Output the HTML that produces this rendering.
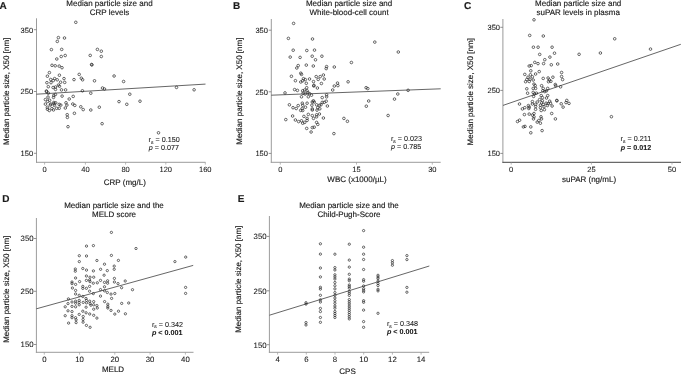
<!DOCTYPE html>
<html><head><meta charset="utf-8"><style>
html,body{margin:0;padding:0;background:#fff;}
svg{display:block;will-change:transform;}
text{text-rendering:geometricPrecision;font-family:"Liberation Sans", sans-serif;fill:#1a1a1a;stroke:#1a1a1a;stroke-width:0.15px;}
text.st{stroke-width:0.08px;}
text.tk{stroke-width:0.08px;}
circle{fill:none;stroke:#2a2a2a;stroke-width:0.7;}
</style></head><body>
<svg width="685" height="374" viewBox="0 0 685 374">
<text x="-0.6" y="8.8" font-size="10" text-anchor="start" font-weight="bold" font-style="normal" fill="#000">A</text>
<text x="109.5" y="5.9" font-size="8" text-anchor="middle" font-weight="normal" font-style="normal" >Median particle size and</text>
<text x="109.5" y="15.4" font-size="8" text-anchor="middle" font-weight="normal" font-style="normal" >CRP levels</text>
<line x1="36.5" y1="18.3" x2="36.5" y2="162.8" stroke="#9c9c9c" stroke-width="1.0"/>
<line x1="36.0" y1="162.3" x2="205.5" y2="162.3" stroke="#9c9c9c" stroke-width="1.0"/>
<line x1="33.9" y1="153.3" x2="36.5" y2="153.3" stroke="#777" stroke-width="0.8"/>
<text x="33.1" y="156.10000000000002" font-size="7.5" text-anchor="end" font-weight="normal" font-style="normal" class="tk">150</text>
<line x1="33.9" y1="91.5" x2="36.5" y2="91.5" stroke="#777" stroke-width="0.8"/>
<text x="33.1" y="94.3" font-size="7.5" text-anchor="end" font-weight="normal" font-style="normal" class="tk">250</text>
<line x1="33.9" y1="29.7" x2="36.5" y2="29.7" stroke="#777" stroke-width="0.8"/>
<text x="33.1" y="32.5" font-size="7.5" text-anchor="end" font-weight="normal" font-style="normal" class="tk">350</text>
<line x1="44.6" y1="162.3" x2="44.6" y2="164.60000000000002" stroke="#999" stroke-width="0.7"/>
<text x="44.6" y="172.3" font-size="7.5" text-anchor="middle" font-weight="normal" font-style="normal" class="tk">0</text>
<line x1="85.4" y1="162.3" x2="85.4" y2="164.60000000000002" stroke="#999" stroke-width="0.7"/>
<text x="85.4" y="172.3" font-size="7.5" text-anchor="middle" font-weight="normal" font-style="normal" class="tk">40</text>
<line x1="125.6" y1="162.3" x2="125.6" y2="164.60000000000002" stroke="#999" stroke-width="0.7"/>
<text x="125.6" y="172.3" font-size="7.5" text-anchor="middle" font-weight="normal" font-style="normal" class="tk">80</text>
<line x1="165.8" y1="162.3" x2="165.8" y2="164.60000000000002" stroke="#999" stroke-width="0.7"/>
<text x="165.8" y="172.3" font-size="7.5" text-anchor="middle" font-weight="normal" font-style="normal" class="tk">120</text>
<line x1="205.3" y1="162.3" x2="205.3" y2="164.60000000000002" stroke="#999" stroke-width="0.7"/>
<text x="205.3" y="172.3" font-size="7.5" text-anchor="middle" font-weight="normal" font-style="normal" class="tk">160</text>
<text x="124.8" y="184.5" font-size="8" text-anchor="middle" font-weight="normal" font-style="normal" >CRP (mg/L)</text>
<text transform="translate(9.0,91.3) rotate(-90)" font-size="8" text-anchor="middle">Median particle size, X50 [nm]</text>
<line x1="36.5" y1="94.2" x2="205.5" y2="84.1" stroke="#333" stroke-width="0.75"/>
<text x="148.6" y="141.9" font-size="7.2" text-anchor="start" font-weight="normal" font-style="normal" class="st">r</text>
<text x="151.0" y="143.8" font-size="5.0" text-anchor="start" font-weight="normal" font-style="normal" class="st">s</text>
<text x="155.5" y="141.9" font-size="7.2" text-anchor="start" font-weight="normal" font-style="normal" class="st">= 0.150</text>
<text x="148.8" y="149.8" font-size="7.2" text-anchor="start" font-weight="normal" font-style="italic" class="st">p</text>
<text x="154.8" y="149.8" font-size="7.2" text-anchor="start" font-weight="normal" font-style="normal" class="st">= 0.077</text>
<text x="233.0" y="8.8" font-size="10" text-anchor="start" font-weight="bold" font-style="normal" fill="#000">B</text>
<text x="349.1" y="5.9" font-size="8" text-anchor="middle" font-weight="normal" font-style="normal" >Median particle size and</text>
<text x="349.1" y="15.4" font-size="8" text-anchor="middle" font-weight="normal" font-style="normal" >White-blood-cell count</text>
<line x1="271.3" y1="19.0" x2="271.3" y2="162.8" stroke="#9c9c9c" stroke-width="1.0"/>
<line x1="270.8" y1="162.3" x2="440.7" y2="162.3" stroke="#9c9c9c" stroke-width="1.0"/>
<line x1="268.7" y1="153.4" x2="271.3" y2="153.4" stroke="#777" stroke-width="0.8"/>
<text x="267.90000000000003" y="156.20000000000002" font-size="7.5" text-anchor="end" font-weight="normal" font-style="normal" class="tk">150</text>
<line x1="268.7" y1="91.8" x2="271.3" y2="91.8" stroke="#777" stroke-width="0.8"/>
<text x="267.90000000000003" y="94.6" font-size="7.5" text-anchor="end" font-weight="normal" font-style="normal" class="tk">250</text>
<line x1="268.7" y1="30.2" x2="271.3" y2="30.2" stroke="#777" stroke-width="0.8"/>
<text x="267.90000000000003" y="33.0" font-size="7.5" text-anchor="end" font-weight="normal" font-style="normal" class="tk">350</text>
<line x1="280.3" y1="162.3" x2="280.3" y2="164.60000000000002" stroke="#999" stroke-width="0.7"/>
<text x="280.3" y="171.6" font-size="7.5" text-anchor="middle" font-weight="normal" font-style="normal" class="tk">0</text>
<line x1="356.5" y1="162.3" x2="356.5" y2="164.60000000000002" stroke="#999" stroke-width="0.7"/>
<text x="356.5" y="171.6" font-size="7.5" text-anchor="middle" font-weight="normal" font-style="normal" class="tk">15</text>
<line x1="432.3" y1="162.3" x2="432.3" y2="164.60000000000002" stroke="#999" stroke-width="0.7"/>
<text x="432.3" y="171.6" font-size="7.5" text-anchor="middle" font-weight="normal" font-style="normal" class="tk">30</text>
<text x="357.0" y="181.9" font-size="8" text-anchor="middle" font-weight="normal" font-style="normal" >WBC (x1000/µL)</text>
<text transform="translate(242.2,91.2) rotate(-90)" font-size="8" text-anchor="middle">Median particle size, X50 [nm]</text>
<line x1="271.3" y1="95.2" x2="440.7" y2="88.8" stroke="#333" stroke-width="0.75"/>
<text x="390.9" y="141.0" font-size="7.2" text-anchor="start" font-weight="normal" font-style="normal" class="st">r</text>
<text x="393.3" y="142.9" font-size="5.0" text-anchor="start" font-weight="normal" font-style="normal" class="st">s</text>
<text x="397.8" y="141.0" font-size="7.2" text-anchor="start" font-weight="normal" font-style="normal" class="st">= 0.023</text>
<text x="391.1" y="149.4" font-size="7.2" text-anchor="start" font-weight="normal" font-style="italic" class="st">p</text>
<text x="397.1" y="149.4" font-size="7.2" text-anchor="start" font-weight="normal" font-style="normal" class="st">= 0.785</text>
<text x="463.9" y="8.8" font-size="10" text-anchor="start" font-weight="bold" font-style="normal" fill="#000">C</text>
<text x="578.2" y="5.9" font-size="8" text-anchor="middle" font-weight="normal" font-style="normal" >Median particle size and</text>
<text x="578.2" y="15.4" font-size="8" text-anchor="middle" font-weight="normal" font-style="normal" >suPAR levels in plasma</text>
<line x1="502.9" y1="19.0" x2="502.9" y2="162.8" stroke="#999" stroke-width="1.0"/>
<line x1="502.4" y1="162.3" x2="681.0" y2="162.3" stroke="#444" stroke-width="1.0"/>
<line x1="500.29999999999995" y1="153.4" x2="502.9" y2="153.4" stroke="#777" stroke-width="0.8"/>
<text x="500.0" y="156.20000000000002" font-size="7.5" text-anchor="end" font-weight="normal" font-style="normal" class="tk">150</text>
<line x1="500.29999999999995" y1="90.4" x2="502.9" y2="90.4" stroke="#777" stroke-width="0.8"/>
<text x="500.0" y="93.2" font-size="7.5" text-anchor="end" font-weight="normal" font-style="normal" class="tk">250</text>
<line x1="500.29999999999995" y1="27.3" x2="502.9" y2="27.3" stroke="#777" stroke-width="0.8"/>
<text x="500.0" y="30.1" font-size="7.5" text-anchor="end" font-weight="normal" font-style="normal" class="tk">350</text>
<line x1="511.2" y1="162.3" x2="511.2" y2="164.60000000000002" stroke="#999" stroke-width="0.7"/>
<text x="511.2" y="171.6" font-size="7.5" text-anchor="middle" font-weight="normal" font-style="normal" class="tk">0</text>
<line x1="591.4" y1="162.3" x2="591.4" y2="164.60000000000002" stroke="#999" stroke-width="0.7"/>
<text x="591.4" y="171.6" font-size="7.5" text-anchor="middle" font-weight="normal" font-style="normal" class="tk">25</text>
<line x1="672.0" y1="162.3" x2="672.0" y2="164.60000000000002" stroke="#999" stroke-width="0.7"/>
<text x="672.0" y="171.6" font-size="7.5" text-anchor="middle" font-weight="normal" font-style="normal" class="tk">50</text>
<text x="589.0" y="181.9" font-size="8" text-anchor="middle" font-weight="normal" font-style="normal" >suPAR (ng/mL)</text>
<text transform="translate(473.4,91.8) rotate(-90)" font-size="8" text-anchor="middle">Median particle size, X50 [nm]</text>
<line x1="503.0" y1="105.4" x2="680.8" y2="44.3" stroke="#333" stroke-width="0.75"/>
<text x="620.6" y="141.0" font-size="7.2" text-anchor="start" font-weight="normal" font-style="normal" class="st">r</text>
<text x="623.0" y="142.9" font-size="5.0" text-anchor="start" font-weight="normal" font-style="normal" class="st">s</text>
<text x="627.5" y="141.0" font-size="7.2" text-anchor="start" font-weight="normal" font-style="normal" class="st">= 0.211</text>
<text x="620.8" y="149.8" font-size="7.2" text-anchor="start" font-weight="bold" font-style="italic" class="st">p</text>
<text x="627.0" y="149.8" font-size="7.2" text-anchor="start" font-weight="bold" font-style="normal" class="st">= 0.012</text>
<text x="2.2" y="202.0" font-size="10" text-anchor="start" font-weight="bold" font-style="normal" fill="#000">D</text>
<text x="114.0" y="207.6" font-size="8" text-anchor="middle" font-weight="normal" font-style="normal" >Median particle size and the</text>
<text x="114.0" y="216.7" font-size="8" text-anchor="middle" font-weight="normal" font-style="normal" >MELD score</text>
<line x1="36.4" y1="218" x2="36.4" y2="352.8" stroke="#9c9c9c" stroke-width="1.0"/>
<line x1="35.9" y1="352.3" x2="193.5" y2="352.3" stroke="#9c9c9c" stroke-width="1.0"/>
<line x1="33.8" y1="344.5" x2="36.4" y2="344.5" stroke="#777" stroke-width="0.8"/>
<text x="33.6" y="347.3" font-size="7.8" text-anchor="end" font-weight="normal" font-style="normal" class="tk">150</text>
<line x1="33.8" y1="291.3" x2="36.4" y2="291.3" stroke="#777" stroke-width="0.8"/>
<text x="33.6" y="294.1" font-size="7.8" text-anchor="end" font-weight="normal" font-style="normal" class="tk">250</text>
<line x1="33.8" y1="238.5" x2="36.4" y2="238.5" stroke="#777" stroke-width="0.8"/>
<text x="33.6" y="241.3" font-size="7.8" text-anchor="end" font-weight="normal" font-style="normal" class="tk">350</text>
<line x1="44.3" y1="352.3" x2="44.3" y2="354.6" stroke="#999" stroke-width="0.7"/>
<text x="44.3" y="361.6" font-size="7.8" text-anchor="middle" font-weight="normal" font-style="normal" class="tk">0</text>
<line x1="79.6" y1="352.3" x2="79.6" y2="354.6" stroke="#999" stroke-width="0.7"/>
<text x="79.6" y="361.6" font-size="7.8" text-anchor="middle" font-weight="normal" font-style="normal" class="tk">10</text>
<line x1="114.8" y1="352.3" x2="114.8" y2="354.6" stroke="#999" stroke-width="0.7"/>
<text x="114.8" y="361.6" font-size="7.8" text-anchor="middle" font-weight="normal" font-style="normal" class="tk">20</text>
<line x1="150.1" y1="352.3" x2="150.1" y2="354.6" stroke="#999" stroke-width="0.7"/>
<text x="150.1" y="361.6" font-size="7.8" text-anchor="middle" font-weight="normal" font-style="normal" class="tk">30</text>
<line x1="185.4" y1="352.3" x2="185.4" y2="354.6" stroke="#999" stroke-width="0.7"/>
<text x="185.4" y="361.6" font-size="7.8" text-anchor="middle" font-weight="normal" font-style="normal" class="tk">40</text>
<text x="113.0" y="372.0" font-size="8" text-anchor="middle" font-weight="normal" font-style="normal" >MELD</text>
<text transform="translate(9.1,289.25) rotate(-90)" font-size="8" text-anchor="middle">Median particle size, X50 [nm]</text>
<line x1="36.4" y1="308.8" x2="193.2" y2="265.4" stroke="#333" stroke-width="0.75"/>
<text x="151.9" y="326.5" font-size="7.2" text-anchor="start" font-weight="normal" font-style="normal" class="st">r</text>
<text x="154.3" y="328.4" font-size="5.0" text-anchor="start" font-weight="normal" font-style="normal" class="st">s</text>
<text x="158.8" y="326.5" font-size="7.2" text-anchor="start" font-weight="normal" font-style="normal" class="st">= 0.342</text>
<text x="152.1" y="334.5" font-size="7.2" text-anchor="start" font-weight="bold" font-style="italic" class="st">p</text>
<text x="158.3" y="334.5" font-size="7.2" text-anchor="start" font-weight="bold" font-style="normal" class="st">< 0.001</text>
<text x="237.7" y="201.7" font-size="10" text-anchor="start" font-weight="bold" font-style="normal" fill="#000">E</text>
<text x="349.0" y="207.6" font-size="8" text-anchor="middle" font-weight="normal" font-style="normal" >Median particle size and the</text>
<text x="349.0" y="216.7" font-size="8" text-anchor="middle" font-weight="normal" font-style="normal" >Child-Pugh-Score</text>
<line x1="269.4" y1="216" x2="269.4" y2="352.8" stroke="#9c9c9c" stroke-width="1.0"/>
<line x1="268.9" y1="352.3" x2="429.2" y2="352.3" stroke="#9c9c9c" stroke-width="1.0"/>
<line x1="266.79999999999995" y1="344.7" x2="269.4" y2="344.7" stroke="#777" stroke-width="0.8"/>
<text x="266.59999999999997" y="347.5" font-size="7.8" text-anchor="end" font-weight="normal" font-style="normal" class="tk">150</text>
<line x1="266.79999999999995" y1="290.8" x2="269.4" y2="290.8" stroke="#777" stroke-width="0.8"/>
<text x="266.59999999999997" y="293.6" font-size="7.8" text-anchor="end" font-weight="normal" font-style="normal" class="tk">250</text>
<line x1="266.79999999999995" y1="236.4" x2="269.4" y2="236.4" stroke="#777" stroke-width="0.8"/>
<text x="266.59999999999997" y="239.20000000000002" font-size="7.8" text-anchor="end" font-weight="normal" font-style="normal" class="tk">350</text>
<line x1="277.6" y1="352.3" x2="277.6" y2="354.6" stroke="#999" stroke-width="0.7"/>
<text x="277.6" y="361.9" font-size="7.8" text-anchor="middle" font-weight="normal" font-style="normal" class="tk">4</text>
<line x1="306.3" y1="352.3" x2="306.3" y2="354.6" stroke="#999" stroke-width="0.7"/>
<text x="306.3" y="361.9" font-size="7.8" text-anchor="middle" font-weight="normal" font-style="normal" class="tk">6</text>
<line x1="335.0" y1="352.3" x2="335.0" y2="354.6" stroke="#999" stroke-width="0.7"/>
<text x="335.0" y="361.9" font-size="7.8" text-anchor="middle" font-weight="normal" font-style="normal" class="tk">8</text>
<line x1="363.7" y1="352.3" x2="363.7" y2="354.6" stroke="#999" stroke-width="0.7"/>
<text x="363.7" y="361.9" font-size="7.8" text-anchor="middle" font-weight="normal" font-style="normal" class="tk">10</text>
<line x1="392.4" y1="352.3" x2="392.4" y2="354.6" stroke="#999" stroke-width="0.7"/>
<text x="392.4" y="361.9" font-size="7.8" text-anchor="middle" font-weight="normal" font-style="normal" class="tk">12</text>
<line x1="421.1" y1="352.3" x2="421.1" y2="354.6" stroke="#999" stroke-width="0.7"/>
<text x="421.1" y="361.9" font-size="7.8" text-anchor="middle" font-weight="normal" font-style="normal" class="tk">14</text>
<text x="347.5" y="374.0" font-size="8" text-anchor="middle" font-weight="normal" font-style="normal" >CPS</text>
<text transform="translate(241.3,279.25) rotate(-90)" font-size="8" text-anchor="middle">Median particle size, X50 [nm]</text>
<line x1="269.5" y1="315.2" x2="429.3" y2="266.0" stroke="#333" stroke-width="0.75"/>
<text x="386.9" y="326.2" font-size="7.2" text-anchor="start" font-weight="normal" font-style="normal" class="st">r</text>
<text x="389.3" y="328.1" font-size="5.0" text-anchor="start" font-weight="normal" font-style="normal" class="st">s</text>
<text x="393.8" y="326.2" font-size="7.2" text-anchor="start" font-weight="normal" font-style="normal" class="st">= 0.348</text>
<text x="387.1" y="334.4" font-size="7.2" text-anchor="start" font-weight="bold" font-style="italic" class="st">p</text>
<text x="393.3" y="334.4" font-size="7.2" text-anchor="start" font-weight="bold" font-style="normal" class="st">< 0.001</text>
<circle cx="75.8" cy="22.3" r="1.3"/>
<circle cx="58.4" cy="37.6" r="1.3"/>
<circle cx="64.5" cy="38.0" r="1.3"/>
<circle cx="57.3" cy="41.4" r="1.3"/>
<circle cx="51.4" cy="49.6" r="1.3"/>
<circle cx="61.7" cy="49.4" r="1.3"/>
<circle cx="97.4" cy="49.4" r="1.3"/>
<circle cx="101.3" cy="51.2" r="1.3"/>
<circle cx="61.2" cy="56.5" r="1.3"/>
<circle cx="65.2" cy="55.5" r="1.3"/>
<circle cx="56.8" cy="59.0" r="1.3"/>
<circle cx="90.2" cy="55.4" r="1.3"/>
<circle cx="101.3" cy="56.5" r="1.3"/>
<circle cx="52.0" cy="65.3" r="1.3"/>
<circle cx="55.2" cy="65.8" r="1.3"/>
<circle cx="59.2" cy="66.1" r="1.3"/>
<circle cx="62.0" cy="67.7" r="1.3"/>
<circle cx="91.6" cy="64.5" r="1.3"/>
<circle cx="91.9" cy="64.9" r="1.3"/>
<circle cx="49.4" cy="72.6" r="1.3"/>
<circle cx="47.4" cy="76.2" r="1.3"/>
<circle cx="59.4" cy="75.2" r="1.3"/>
<circle cx="50.7" cy="79.5" r="1.3"/>
<circle cx="54.6" cy="78.6" r="1.3"/>
<circle cx="57.2" cy="79.8" r="1.3"/>
<circle cx="53.3" cy="80.5" r="1.3"/>
<circle cx="64.0" cy="78.6" r="1.3"/>
<circle cx="46.9" cy="82.7" r="1.3"/>
<circle cx="51.0" cy="82.7" r="1.3"/>
<circle cx="60.6" cy="82.2" r="1.3"/>
<circle cx="64.7" cy="82.4" r="1.3"/>
<circle cx="58.4" cy="85.1" r="1.3"/>
<circle cx="59.5" cy="86.2" r="1.3"/>
<circle cx="48.3" cy="86.7" r="1.3"/>
<circle cx="53.1" cy="87.5" r="1.3"/>
<circle cx="55.5" cy="87.0" r="1.3"/>
<circle cx="55.5" cy="89.4" r="1.3"/>
<circle cx="61.5" cy="89.9" r="1.3"/>
<circle cx="65.6" cy="89.9" r="1.3"/>
<circle cx="46.4" cy="91.0" r="1.3"/>
<circle cx="48.3" cy="93.2" r="1.3"/>
<circle cx="53.8" cy="95.4" r="1.3"/>
<circle cx="55.4" cy="94.5" r="1.3"/>
<circle cx="62.1" cy="96.1" r="1.3"/>
<circle cx="48.0" cy="97.1" r="1.3"/>
<circle cx="53.5" cy="97.4" r="1.3"/>
<circle cx="45.4" cy="99.6" r="1.3"/>
<circle cx="47.7" cy="101.5" r="1.3"/>
<circle cx="49.6" cy="100.3" r="1.3"/>
<circle cx="69.2" cy="99.0" r="1.3"/>
<circle cx="45.4" cy="104.1" r="1.3"/>
<circle cx="50.3" cy="105.1" r="1.3"/>
<circle cx="53.8" cy="102.5" r="1.3"/>
<circle cx="54.4" cy="105.4" r="1.3"/>
<circle cx="55.7" cy="102.8" r="1.3"/>
<circle cx="59.2" cy="104.4" r="1.3"/>
<circle cx="60.8" cy="105.1" r="1.3"/>
<circle cx="66.0" cy="102.8" r="1.3"/>
<circle cx="66.9" cy="105.1" r="1.3"/>
<circle cx="65.3" cy="108.0" r="1.3"/>
<circle cx="59.2" cy="108.3" r="1.3"/>
<circle cx="56.7" cy="108.3" r="1.3"/>
<circle cx="47.4" cy="107.3" r="1.3"/>
<circle cx="47.4" cy="109.2" r="1.3"/>
<circle cx="49.3" cy="110.5" r="1.3"/>
<circle cx="53.5" cy="109.9" r="1.3"/>
<circle cx="51.9" cy="108.6" r="1.3"/>
<circle cx="67.2" cy="114.7" r="1.3"/>
<circle cx="67.4" cy="117.4" r="1.3"/>
<circle cx="74.4" cy="113.3" r="1.3"/>
<circle cx="68.0" cy="126.7" r="1.3"/>
<circle cx="79.2" cy="74.4" r="1.3"/>
<circle cx="74.0" cy="79.6" r="1.3"/>
<circle cx="81.3" cy="78.2" r="1.3"/>
<circle cx="82.6" cy="79.8" r="1.3"/>
<circle cx="94.5" cy="80.8" r="1.3"/>
<circle cx="82.4" cy="90.8" r="1.3"/>
<circle cx="90.8" cy="93.2" r="1.3"/>
<circle cx="102.5" cy="88.0" r="1.3"/>
<circle cx="104.5" cy="89.0" r="1.3"/>
<circle cx="73.2" cy="96.4" r="1.3"/>
<circle cx="72.8" cy="104.0" r="1.3"/>
<circle cx="74.8" cy="105.4" r="1.3"/>
<circle cx="80.8" cy="106.8" r="1.3"/>
<circle cx="83.2" cy="109.6" r="1.3"/>
<circle cx="90.8" cy="110.0" r="1.3"/>
<circle cx="99.3" cy="107.2" r="1.3"/>
<circle cx="102.1" cy="123.7" r="1.3"/>
<circle cx="114.1" cy="76.0" r="1.3"/>
<circle cx="123.6" cy="81.5" r="1.3"/>
<circle cx="129.8" cy="94.2" r="1.3"/>
<circle cx="119.0" cy="101.6" r="1.3"/>
<circle cx="126.8" cy="104.3" r="1.3"/>
<circle cx="140.0" cy="101.2" r="1.3"/>
<circle cx="176.5" cy="87.4" r="1.3"/>
<circle cx="194.1" cy="89.8" r="1.3"/>
<circle cx="158.5" cy="132.8" r="1.3"/>
<circle cx="46.6" cy="91.6" r="1.3"/>
<circle cx="54.0" cy="103.8" r="1.3"/>
<circle cx="50.8" cy="104.0" r="1.3"/>
<circle cx="293.6" cy="23.4" r="1.3"/>
<circle cx="288.4" cy="38.4" r="1.3"/>
<circle cx="312.5" cy="39.0" r="1.3"/>
<circle cx="293.2" cy="50.2" r="1.3"/>
<circle cx="306.8" cy="50.5" r="1.3"/>
<circle cx="314.5" cy="50.1" r="1.3"/>
<circle cx="290.2" cy="57.1" r="1.3"/>
<circle cx="300.1" cy="57.4" r="1.3"/>
<circle cx="312.2" cy="56.2" r="1.3"/>
<circle cx="315.5" cy="59.8" r="1.3"/>
<circle cx="321.9" cy="56.2" r="1.3"/>
<circle cx="374.8" cy="42.1" r="1.3"/>
<circle cx="398.3" cy="52.0" r="1.3"/>
<circle cx="351.4" cy="62.5" r="1.3"/>
<circle cx="348.1" cy="81.8" r="1.3"/>
<circle cx="366.1" cy="87.7" r="1.3"/>
<circle cx="367.8" cy="88.6" r="1.3"/>
<circle cx="397.8" cy="94.0" r="1.3"/>
<circle cx="408.1" cy="90.3" r="1.3"/>
<circle cx="394.5" cy="99.1" r="1.3"/>
<circle cx="298.2" cy="65.6" r="1.3"/>
<circle cx="296.8" cy="68.0" r="1.3"/>
<circle cx="306.3" cy="65.1" r="1.3"/>
<circle cx="313.3" cy="66.0" r="1.3"/>
<circle cx="300.8" cy="73.2" r="1.3"/>
<circle cx="301.5" cy="74.4" r="1.3"/>
<circle cx="291.4" cy="76.3" r="1.3"/>
<circle cx="295.4" cy="80.7" r="1.3"/>
<circle cx="303.5" cy="78.7" r="1.3"/>
<circle cx="305.3" cy="79.6" r="1.3"/>
<circle cx="309.5" cy="79.0" r="1.3"/>
<circle cx="300.8" cy="82.0" r="1.3"/>
<circle cx="302.7" cy="80.8" r="1.3"/>
<circle cx="306.3" cy="83.3" r="1.3"/>
<circle cx="313.5" cy="81.6" r="1.3"/>
<circle cx="313.9" cy="85.3" r="1.3"/>
<circle cx="306.7" cy="87.7" r="1.3"/>
<circle cx="326.6" cy="66.6" r="1.3"/>
<circle cx="326.2" cy="68.6" r="1.3"/>
<circle cx="334.3" cy="67.0" r="1.3"/>
<circle cx="323.4" cy="75.0" r="1.3"/>
<circle cx="316.2" cy="76.6" r="1.3"/>
<circle cx="320.2" cy="76.6" r="1.3"/>
<circle cx="324.2" cy="79.0" r="1.3"/>
<circle cx="318.2" cy="79.4" r="1.3"/>
<circle cx="321.4" cy="83.5" r="1.3"/>
<circle cx="337.5" cy="83.1" r="1.3"/>
<circle cx="285.0" cy="92.9" r="1.3"/>
<circle cx="294.6" cy="89.6" r="1.3"/>
<circle cx="297.4" cy="90.4" r="1.3"/>
<circle cx="302.7" cy="90.8" r="1.3"/>
<circle cx="304.7" cy="90.0" r="1.3"/>
<circle cx="307.1" cy="90.8" r="1.3"/>
<circle cx="303.1" cy="93.2" r="1.3"/>
<circle cx="305.1" cy="94.0" r="1.3"/>
<circle cx="307.9" cy="92.8" r="1.3"/>
<circle cx="309.5" cy="93.6" r="1.3"/>
<circle cx="301.5" cy="96.8" r="1.3"/>
<circle cx="308.3" cy="96.8" r="1.3"/>
<circle cx="311.5" cy="95.2" r="1.3"/>
<circle cx="289.4" cy="104.8" r="1.3"/>
<circle cx="293.0" cy="107.7" r="1.3"/>
<circle cx="296.2" cy="108.5" r="1.3"/>
<circle cx="298.2" cy="105.6" r="1.3"/>
<circle cx="302.3" cy="103.2" r="1.3"/>
<circle cx="302.7" cy="105.2" r="1.3"/>
<circle cx="307.1" cy="103.2" r="1.3"/>
<circle cx="305.5" cy="107.2" r="1.3"/>
<circle cx="302.3" cy="108.5" r="1.3"/>
<circle cx="302.7" cy="110.5" r="1.3"/>
<circle cx="312.3" cy="102.0" r="1.3"/>
<circle cx="311.9" cy="105.2" r="1.3"/>
<circle cx="312.3" cy="108.9" r="1.3"/>
<circle cx="313.8" cy="86.0" r="1.3"/>
<circle cx="317.4" cy="88.0" r="1.3"/>
<circle cx="334.3" cy="86.0" r="1.3"/>
<circle cx="337.9" cy="85.6" r="1.3"/>
<circle cx="332.7" cy="90.0" r="1.3"/>
<circle cx="326.6" cy="94.8" r="1.3"/>
<circle cx="326.6" cy="96.8" r="1.3"/>
<circle cx="322.2" cy="97.6" r="1.3"/>
<circle cx="326.2" cy="101.2" r="1.3"/>
<circle cx="324.2" cy="102.4" r="1.3"/>
<circle cx="322.2" cy="102.4" r="1.3"/>
<circle cx="327.4" cy="106.0" r="1.3"/>
<circle cx="313.4" cy="100.8" r="1.3"/>
<circle cx="314.2" cy="102.0" r="1.3"/>
<circle cx="316.6" cy="104.8" r="1.3"/>
<circle cx="319.4" cy="105.2" r="1.3"/>
<circle cx="321.0" cy="104.8" r="1.3"/>
<circle cx="317.8" cy="107.7" r="1.3"/>
<circle cx="317.0" cy="110.1" r="1.3"/>
<circle cx="300.7" cy="110.4" r="1.3"/>
<circle cx="312.3" cy="110.0" r="1.3"/>
<circle cx="292.6" cy="116.0" r="1.3"/>
<circle cx="285.8" cy="119.6" r="1.3"/>
<circle cx="303.9" cy="116.4" r="1.3"/>
<circle cx="308.3" cy="114.4" r="1.3"/>
<circle cx="307.1" cy="118.4" r="1.3"/>
<circle cx="307.1" cy="120.4" r="1.3"/>
<circle cx="312.3" cy="115.6" r="1.3"/>
<circle cx="313.5" cy="118.4" r="1.3"/>
<circle cx="295.4" cy="120.0" r="1.3"/>
<circle cx="298.6" cy="121.6" r="1.3"/>
<circle cx="301.5" cy="120.8" r="1.3"/>
<circle cx="302.7" cy="123.2" r="1.3"/>
<circle cx="304.7" cy="122.4" r="1.3"/>
<circle cx="306.7" cy="128.4" r="1.3"/>
<circle cx="312.3" cy="127.6" r="1.3"/>
<circle cx="311.1" cy="132.0" r="1.3"/>
<circle cx="319.8" cy="108.8" r="1.3"/>
<circle cx="316.6" cy="114.8" r="1.3"/>
<circle cx="319.4" cy="114.0" r="1.3"/>
<circle cx="316.6" cy="116.8" r="1.3"/>
<circle cx="323.4" cy="118.0" r="1.3"/>
<circle cx="316.6" cy="122.4" r="1.3"/>
<circle cx="317.8" cy="124.4" r="1.3"/>
<circle cx="314.2" cy="127.2" r="1.3"/>
<circle cx="333.9" cy="133.6" r="1.3"/>
<circle cx="343.9" cy="118.4" r="1.3"/>
<circle cx="368.7" cy="101.0" r="1.3"/>
<circle cx="366.3" cy="106.2" r="1.3"/>
<circle cx="388.1" cy="115.5" r="1.3"/>
<circle cx="347.4" cy="121.3" r="1.3"/>
<circle cx="534.0" cy="19.8" r="1.3"/>
<circle cx="529.7" cy="35.4" r="1.3"/>
<circle cx="543.3" cy="36.0" r="1.3"/>
<circle cx="533.4" cy="47.2" r="1.3"/>
<circle cx="538.1" cy="47.2" r="1.3"/>
<circle cx="552.1" cy="47.2" r="1.3"/>
<circle cx="554.5" cy="53.2" r="1.3"/>
<circle cx="539.7" cy="54.4" r="1.3"/>
<circle cx="549.9" cy="57.1" r="1.3"/>
<circle cx="544.8" cy="59.7" r="1.3"/>
<circle cx="534.8" cy="62.4" r="1.3"/>
<circle cx="538.0" cy="63.6" r="1.3"/>
<circle cx="543.6" cy="63.6" r="1.3"/>
<circle cx="551.3" cy="64.8" r="1.3"/>
<circle cx="557.7" cy="64.0" r="1.3"/>
<circle cx="529.2" cy="66.0" r="1.3"/>
<circle cx="531.2" cy="65.6" r="1.3"/>
<circle cx="530.8" cy="70.8" r="1.3"/>
<circle cx="539.2" cy="71.6" r="1.3"/>
<circle cx="535.6" cy="74.0" r="1.3"/>
<circle cx="524.8" cy="74.4" r="1.3"/>
<circle cx="530.4" cy="74.8" r="1.3"/>
<circle cx="528.0" cy="77.2" r="1.3"/>
<circle cx="532.4" cy="76.8" r="1.3"/>
<circle cx="526.8" cy="79.6" r="1.3"/>
<circle cx="530.0" cy="79.2" r="1.3"/>
<circle cx="533.2" cy="80.0" r="1.3"/>
<circle cx="525.6" cy="81.7" r="1.3"/>
<circle cx="529.2" cy="81.5" r="1.3"/>
<circle cx="534.0" cy="84.1" r="1.3"/>
<circle cx="543.2" cy="78.4" r="1.3"/>
<circle cx="548.1" cy="78.0" r="1.3"/>
<circle cx="552.9" cy="77.2" r="1.3"/>
<circle cx="549.3" cy="80.0" r="1.3"/>
<circle cx="548.5" cy="81.7" r="1.3"/>
<circle cx="550.9" cy="81.3" r="1.3"/>
<circle cx="555.3" cy="84.5" r="1.3"/>
<circle cx="541.6" cy="85.7" r="1.3"/>
<circle cx="535.2" cy="85.6" r="1.3"/>
<circle cx="526.8" cy="88.8" r="1.3"/>
<circle cx="533.2" cy="88.4" r="1.3"/>
<circle cx="535.6" cy="88.4" r="1.3"/>
<circle cx="527.6" cy="93.2" r="1.3"/>
<circle cx="533.2" cy="92.4" r="1.3"/>
<circle cx="534.4" cy="94.0" r="1.3"/>
<circle cx="536.4" cy="93.2" r="1.3"/>
<circle cx="533.6" cy="96.4" r="1.3"/>
<circle cx="543.2" cy="88.4" r="1.3"/>
<circle cx="547.7" cy="88.4" r="1.3"/>
<circle cx="542.8" cy="90.8" r="1.3"/>
<circle cx="544.8" cy="91.6" r="1.3"/>
<circle cx="546.5" cy="90.8" r="1.3"/>
<circle cx="541.2" cy="95.6" r="1.3"/>
<circle cx="542.4" cy="97.6" r="1.3"/>
<circle cx="546.5" cy="98.0" r="1.3"/>
<circle cx="547.7" cy="95.6" r="1.3"/>
<circle cx="556.9" cy="100.8" r="1.3"/>
<circle cx="539.6" cy="99.6" r="1.3"/>
<circle cx="537.2" cy="102.0" r="1.3"/>
<circle cx="532.4" cy="101.6" r="1.3"/>
<circle cx="542.4" cy="100.8" r="1.3"/>
<circle cx="541.6" cy="102.8" r="1.3"/>
<circle cx="535.6" cy="104.4" r="1.3"/>
<circle cx="532.4" cy="104.0" r="1.3"/>
<circle cx="528.4" cy="105.6" r="1.3"/>
<circle cx="524.8" cy="107.7" r="1.3"/>
<circle cx="522.4" cy="108.9" r="1.3"/>
<circle cx="528.8" cy="108.5" r="1.3"/>
<circle cx="535.6" cy="106.4" r="1.3"/>
<circle cx="535.6" cy="109.3" r="1.3"/>
<circle cx="540.4" cy="105.2" r="1.3"/>
<circle cx="543.2" cy="104.4" r="1.3"/>
<circle cx="540.4" cy="107.7" r="1.3"/>
<circle cx="544.0" cy="106.8" r="1.3"/>
<circle cx="541.2" cy="110.5" r="1.3"/>
<circle cx="544.4" cy="109.7" r="1.3"/>
<circle cx="546.1" cy="103.2" r="1.3"/>
<circle cx="548.1" cy="103.6" r="1.3"/>
<circle cx="549.7" cy="101.2" r="1.3"/>
<circle cx="550.5" cy="103.2" r="1.3"/>
<circle cx="552.1" cy="106.0" r="1.3"/>
<circle cx="529.2" cy="107.1" r="1.3"/>
<circle cx="547.4" cy="105.5" r="1.3"/>
<circle cx="524.4" cy="114.6" r="1.3"/>
<circle cx="529.2" cy="114.1" r="1.3"/>
<circle cx="532.4" cy="115.1" r="1.3"/>
<circle cx="534.0" cy="113.5" r="1.3"/>
<circle cx="533.5" cy="118.9" r="1.3"/>
<circle cx="534.0" cy="116.8" r="1.3"/>
<circle cx="541.0" cy="116.8" r="1.3"/>
<circle cx="541.5" cy="118.9" r="1.3"/>
<circle cx="538.8" cy="120.5" r="1.3"/>
<circle cx="537.2" cy="122.1" r="1.3"/>
<circle cx="540.4" cy="123.2" r="1.3"/>
<circle cx="551.7" cy="113.5" r="1.3"/>
<circle cx="555.4" cy="118.9" r="1.3"/>
<circle cx="517.5" cy="121.5" r="1.3"/>
<circle cx="519.6" cy="120.2" r="1.3"/>
<circle cx="523.4" cy="126.9" r="1.3"/>
<circle cx="525.0" cy="126.4" r="1.3"/>
<circle cx="530.8" cy="126.9" r="1.3"/>
<circle cx="530.8" cy="132.8" r="1.3"/>
<circle cx="542.1" cy="130.6" r="1.3"/>
<circle cx="614.7" cy="38.8" r="1.3"/>
<circle cx="579.1" cy="54.3" r="1.3"/>
<circle cx="600.4" cy="53.0" r="1.3"/>
<circle cx="650.5" cy="49.1" r="1.3"/>
<circle cx="561.6" cy="72.5" r="1.3"/>
<circle cx="561.6" cy="76.5" r="1.3"/>
<circle cx="562.6" cy="79.6" r="1.3"/>
<circle cx="555.7" cy="85.7" r="1.3"/>
<circle cx="560.6" cy="86.8" r="1.3"/>
<circle cx="556.8" cy="100.4" r="1.3"/>
<circle cx="561.2" cy="103.8" r="1.3"/>
<circle cx="563.1" cy="107.1" r="1.3"/>
<circle cx="566.8" cy="100.4" r="1.3"/>
<circle cx="569.0" cy="103.4" r="1.3"/>
<circle cx="566.0" cy="102.6" r="1.3"/>
<circle cx="611.4" cy="116.7" r="1.3"/>
<circle cx="519.5" cy="104.0" r="1.3"/>
<circle cx="111.4" cy="232.4" r="1.15"/>
<circle cx="86.5" cy="246.1" r="1.15"/>
<circle cx="93.4" cy="245.6" r="1.15"/>
<circle cx="79.3" cy="255.7" r="1.15"/>
<circle cx="86.5" cy="256.0" r="1.15"/>
<circle cx="111.4" cy="255.4" r="1.15"/>
<circle cx="79.3" cy="261.6" r="1.15"/>
<circle cx="96.9" cy="260.5" r="1.15"/>
<circle cx="104.5" cy="264.2" r="1.15"/>
<circle cx="75.3" cy="269.0" r="1.15"/>
<circle cx="75.3" cy="271.2" r="1.15"/>
<circle cx="82.8" cy="268.5" r="1.15"/>
<circle cx="86.5" cy="270.1" r="1.15"/>
<circle cx="93.4" cy="270.9" r="1.15"/>
<circle cx="100.6" cy="269.3" r="1.15"/>
<circle cx="107.3" cy="270.6" r="1.15"/>
<circle cx="114.2" cy="266.1" r="1.15"/>
<circle cx="114.2" cy="269.3" r="1.15"/>
<circle cx="104.1" cy="275.2" r="1.15"/>
<circle cx="86.4" cy="276.0" r="1.15"/>
<circle cx="90.0" cy="277.2" r="1.15"/>
<circle cx="93.7" cy="277.2" r="1.15"/>
<circle cx="75.6" cy="278.0" r="1.15"/>
<circle cx="86.4" cy="280.4" r="1.15"/>
<circle cx="89.6" cy="280.0" r="1.15"/>
<circle cx="90.0" cy="281.6" r="1.15"/>
<circle cx="79.6" cy="281.6" r="1.15"/>
<circle cx="72.0" cy="282.0" r="1.15"/>
<circle cx="72.0" cy="283.6" r="1.15"/>
<circle cx="75.6" cy="284.4" r="1.15"/>
<circle cx="93.3" cy="283.2" r="1.15"/>
<circle cx="97.3" cy="282.8" r="1.15"/>
<circle cx="100.5" cy="280.4" r="1.15"/>
<circle cx="104.5" cy="282.4" r="1.15"/>
<circle cx="72.4" cy="288.0" r="1.15"/>
<circle cx="82.8" cy="286.4" r="1.15"/>
<circle cx="82.8" cy="288.4" r="1.15"/>
<circle cx="86.4" cy="288.3" r="1.15"/>
<circle cx="89.6" cy="286.4" r="1.15"/>
<circle cx="75.6" cy="290.4" r="1.15"/>
<circle cx="89.6" cy="291.2" r="1.15"/>
<circle cx="93.3" cy="293.6" r="1.15"/>
<circle cx="100.5" cy="289.6" r="1.15"/>
<circle cx="104.5" cy="286.8" r="1.15"/>
<circle cx="104.5" cy="290.8" r="1.15"/>
<circle cx="75.6" cy="294.0" r="1.15"/>
<circle cx="79.2" cy="295.3" r="1.15"/>
<circle cx="82.8" cy="296.5" r="1.15"/>
<circle cx="86.0" cy="298.5" r="1.15"/>
<circle cx="100.5" cy="296.1" r="1.15"/>
<circle cx="68.4" cy="298.9" r="1.15"/>
<circle cx="118.4" cy="260.4" r="1.15"/>
<circle cx="114.4" cy="278.4" r="1.15"/>
<circle cx="107.6" cy="280.8" r="1.15"/>
<circle cx="107.6" cy="283.2" r="1.15"/>
<circle cx="114.4" cy="282.0" r="1.15"/>
<circle cx="118.0" cy="283.6" r="1.15"/>
<circle cx="125.2" cy="281.0" r="1.15"/>
<circle cx="121.6" cy="287.7" r="1.15"/>
<circle cx="132.5" cy="289.7" r="1.15"/>
<circle cx="136.0" cy="248.5" r="1.15"/>
<circle cx="174.9" cy="261.6" r="1.15"/>
<circle cx="185.7" cy="257.1" r="1.15"/>
<circle cx="185.6" cy="287.4" r="1.15"/>
<circle cx="185.6" cy="293.4" r="1.15"/>
<circle cx="72.0" cy="302.0" r="1.15"/>
<circle cx="75.6" cy="301.2" r="1.15"/>
<circle cx="75.6" cy="303.2" r="1.15"/>
<circle cx="79.2" cy="300.4" r="1.15"/>
<circle cx="79.2" cy="302.4" r="1.15"/>
<circle cx="79.2" cy="304.8" r="1.15"/>
<circle cx="83.2" cy="302.4" r="1.15"/>
<circle cx="86.5" cy="300.4" r="1.15"/>
<circle cx="86.5" cy="302.8" r="1.15"/>
<circle cx="89.7" cy="301.2" r="1.15"/>
<circle cx="90.1" cy="303.6" r="1.15"/>
<circle cx="90.9" cy="305.2" r="1.15"/>
<circle cx="93.7" cy="301.6" r="1.15"/>
<circle cx="93.7" cy="304.8" r="1.15"/>
<circle cx="68.0" cy="303.6" r="1.15"/>
<circle cx="65.2" cy="306.8" r="1.15"/>
<circle cx="72.0" cy="306.4" r="1.15"/>
<circle cx="75.6" cy="306.8" r="1.15"/>
<circle cx="86.1" cy="307.2" r="1.15"/>
<circle cx="96.9" cy="305.6" r="1.15"/>
<circle cx="97.3" cy="308.0" r="1.15"/>
<circle cx="93.7" cy="309.2" r="1.15"/>
<circle cx="68.0" cy="310.8" r="1.15"/>
<circle cx="72.0" cy="311.6" r="1.15"/>
<circle cx="82.8" cy="311.2" r="1.15"/>
<circle cx="86.1" cy="312.8" r="1.15"/>
<circle cx="89.7" cy="314.0" r="1.15"/>
<circle cx="93.7" cy="315.3" r="1.15"/>
<circle cx="65.2" cy="315.7" r="1.15"/>
<circle cx="72.0" cy="315.7" r="1.15"/>
<circle cx="72.0" cy="317.7" r="1.15"/>
<circle cx="75.6" cy="317.7" r="1.15"/>
<circle cx="79.2" cy="314.4" r="1.15"/>
<circle cx="83.2" cy="316.5" r="1.15"/>
<circle cx="96.9" cy="318.1" r="1.15"/>
<circle cx="107.3" cy="292.5" r="1.15"/>
<circle cx="111.0" cy="294.1" r="1.15"/>
<circle cx="114.8" cy="293.5" r="1.15"/>
<circle cx="111.6" cy="298.4" r="1.15"/>
<circle cx="104.6" cy="301.6" r="1.15"/>
<circle cx="107.8" cy="304.2" r="1.15"/>
<circle cx="107.8" cy="306.4" r="1.15"/>
<circle cx="107.8" cy="308.0" r="1.15"/>
<circle cx="121.7" cy="303.4" r="1.15"/>
<circle cx="128.7" cy="303.0" r="1.15"/>
<circle cx="111.0" cy="310.4" r="1.15"/>
<circle cx="118.5" cy="311.2" r="1.15"/>
<circle cx="114.8" cy="314.1" r="1.15"/>
<circle cx="125.4" cy="313.8" r="1.15"/>
<circle cx="76.1" cy="319.8" r="1.15"/>
<circle cx="76.1" cy="322.6" r="1.15"/>
<circle cx="83.1" cy="319.5" r="1.15"/>
<circle cx="83.1" cy="322.2" r="1.15"/>
<circle cx="68.6" cy="323.1" r="1.15"/>
<circle cx="86.4" cy="325.4" r="1.15"/>
<circle cx="90.1" cy="327.3" r="1.15"/>
<circle cx="306.0" cy="302.7" r="1.15"/>
<circle cx="306.0" cy="304.1" r="1.15"/>
<circle cx="306.0" cy="322.6" r="1.15"/>
<circle cx="306.0" cy="325.0" r="1.15"/>
<circle cx="320.4" cy="243.8" r="1.15"/>
<circle cx="320.4" cy="254.1" r="1.15"/>
<circle cx="320.4" cy="268.0" r="1.15"/>
<circle cx="320.4" cy="276.9" r="1.15"/>
<circle cx="320.4" cy="287.3" r="1.15"/>
<circle cx="320.4" cy="289.1" r="1.15"/>
<circle cx="320.4" cy="295.3" r="1.15"/>
<circle cx="320.4" cy="299.8" r="1.15"/>
<circle cx="320.4" cy="302.0" r="1.15"/>
<circle cx="320.4" cy="308.4" r="1.15"/>
<circle cx="320.4" cy="311.6" r="1.15"/>
<circle cx="320.4" cy="317.5" r="1.15"/>
<circle cx="320.4" cy="322.3" r="1.15"/>
<circle cx="334.9" cy="254.2" r="1.15"/>
<circle cx="334.9" cy="267.6" r="1.15"/>
<circle cx="334.9" cy="270.0" r="1.15"/>
<circle cx="334.9" cy="274.8" r="1.15"/>
<circle cx="334.9" cy="276.9" r="1.15"/>
<circle cx="334.9" cy="279.0" r="1.15"/>
<circle cx="334.9" cy="282.5" r="1.15"/>
<circle cx="334.9" cy="285.7" r="1.15"/>
<circle cx="334.9" cy="288.9" r="1.15"/>
<circle cx="334.9" cy="292.6" r="1.15"/>
<circle cx="334.9" cy="295.3" r="1.15"/>
<circle cx="334.9" cy="298.0" r="1.15"/>
<circle cx="334.9" cy="300.7" r="1.15"/>
<circle cx="334.9" cy="303.3" r="1.15"/>
<circle cx="334.9" cy="306.0" r="1.15"/>
<circle cx="334.9" cy="308.2" r="1.15"/>
<circle cx="334.9" cy="311.5" r="1.15"/>
<circle cx="334.9" cy="313.5" r="1.15"/>
<circle cx="334.9" cy="315.5" r="1.15"/>
<circle cx="334.9" cy="317.5" r="1.15"/>
<circle cx="349.3" cy="244.2" r="1.15"/>
<circle cx="349.3" cy="260.1" r="1.15"/>
<circle cx="349.3" cy="267.1" r="1.15"/>
<circle cx="349.3" cy="274.3" r="1.15"/>
<circle cx="349.3" cy="279.1" r="1.15"/>
<circle cx="349.3" cy="280.7" r="1.15"/>
<circle cx="349.3" cy="285.0" r="1.15"/>
<circle cx="349.3" cy="286.6" r="1.15"/>
<circle cx="349.3" cy="288.2" r="1.15"/>
<circle cx="349.3" cy="291.4" r="1.15"/>
<circle cx="349.3" cy="293.2" r="1.15"/>
<circle cx="349.3" cy="295.4" r="1.15"/>
<circle cx="349.3" cy="299.6" r="1.15"/>
<circle cx="349.3" cy="301.8" r="1.15"/>
<circle cx="349.3" cy="303.9" r="1.15"/>
<circle cx="349.3" cy="306.1" r="1.15"/>
<circle cx="349.3" cy="308.2" r="1.15"/>
<circle cx="349.3" cy="310.3" r="1.15"/>
<circle cx="349.3" cy="312.5" r="1.15"/>
<circle cx="349.3" cy="314.6" r="1.15"/>
<circle cx="349.3" cy="316.8" r="1.15"/>
<circle cx="349.3" cy="318.9" r="1.15"/>
<circle cx="363.6" cy="230.6" r="1.15"/>
<circle cx="363.6" cy="247.2" r="1.15"/>
<circle cx="363.6" cy="254.2" r="1.15"/>
<circle cx="363.6" cy="259.5" r="1.15"/>
<circle cx="363.6" cy="269.5" r="1.15"/>
<circle cx="363.6" cy="279.6" r="1.15"/>
<circle cx="363.6" cy="281.2" r="1.15"/>
<circle cx="363.6" cy="286.0" r="1.15"/>
<circle cx="363.6" cy="288.7" r="1.15"/>
<circle cx="363.6" cy="290.3" r="1.15"/>
<circle cx="363.6" cy="291.9" r="1.15"/>
<circle cx="363.6" cy="300.7" r="1.15"/>
<circle cx="363.6" cy="302.3" r="1.15"/>
<circle cx="363.6" cy="310.1" r="1.15"/>
<circle cx="363.6" cy="321.6" r="1.15"/>
<circle cx="363.6" cy="327.3" r="1.15"/>
<circle cx="378.0" cy="275.3" r="1.15"/>
<circle cx="378.0" cy="277.0" r="1.15"/>
<circle cx="378.0" cy="278.6" r="1.15"/>
<circle cx="378.0" cy="281.2" r="1.15"/>
<circle cx="378.0" cy="283.4" r="1.15"/>
<circle cx="378.0" cy="285.5" r="1.15"/>
<circle cx="378.0" cy="289.3" r="1.15"/>
<circle cx="378.0" cy="290.9" r="1.15"/>
<circle cx="378.0" cy="313.3" r="1.15"/>
<circle cx="392.4" cy="260.6" r="1.15"/>
<circle cx="392.4" cy="262.8" r="1.15"/>
<circle cx="392.4" cy="265.2" r="1.15"/>
<circle cx="406.9" cy="255.6" r="1.15"/>
<circle cx="406.9" cy="259.6" r="1.15"/>
<circle cx="406.9" cy="287.4" r="1.15"/>
<circle cx="406.9" cy="292.2" r="1.15"/>
</svg></body></html>
